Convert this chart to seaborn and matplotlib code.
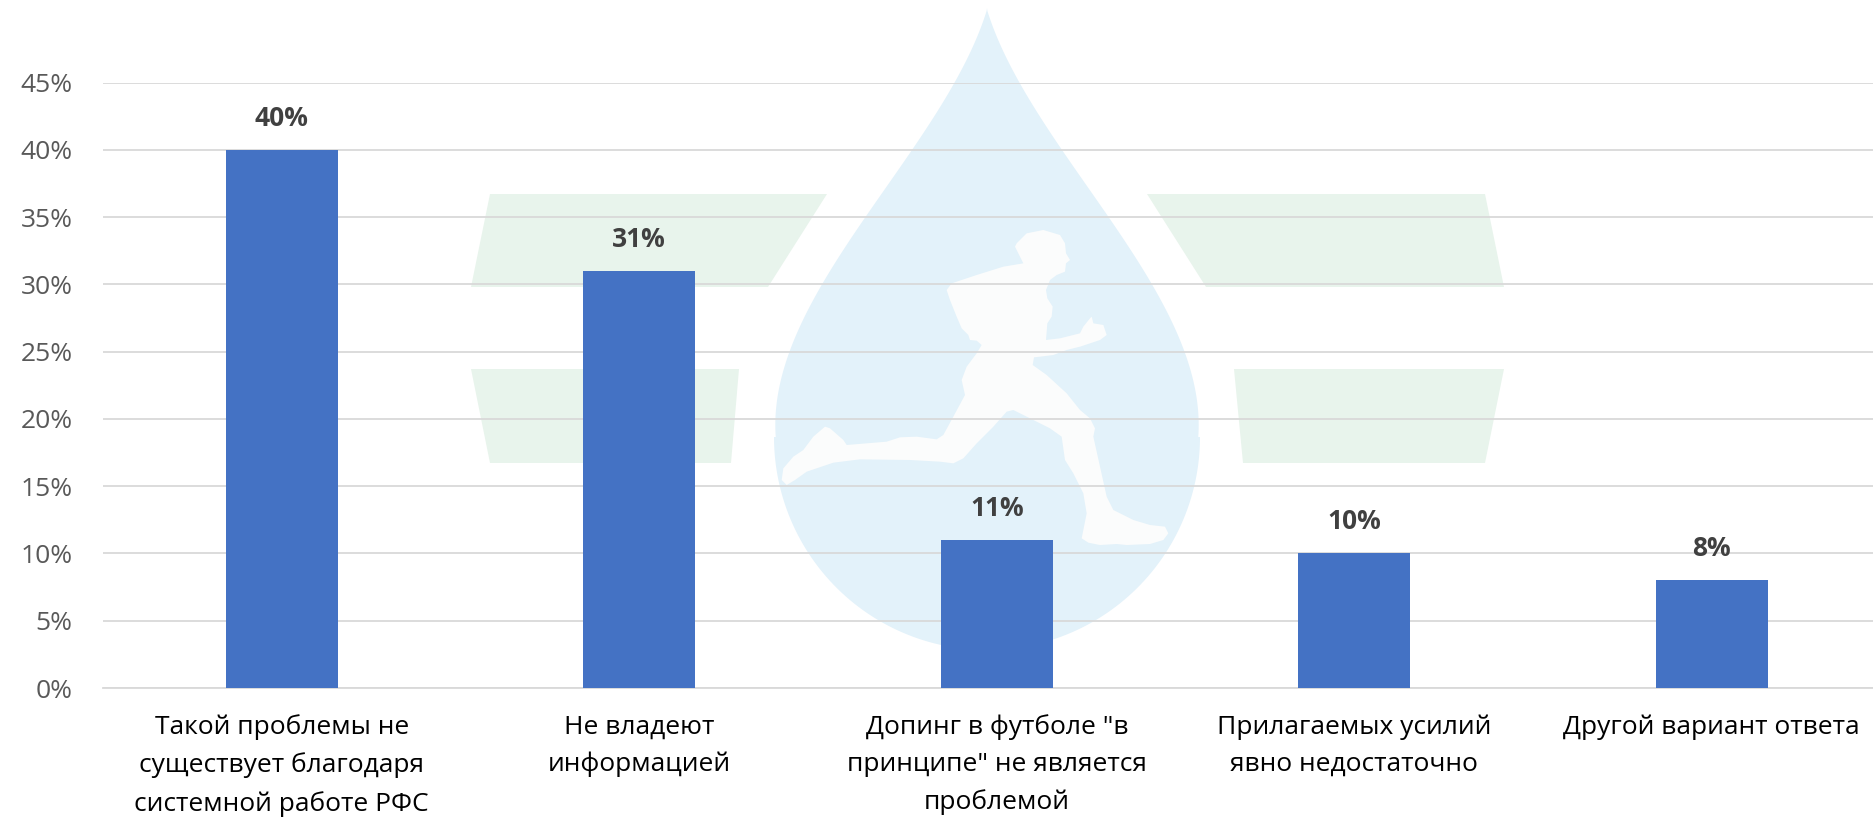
import numpy as np
import pandas as pd
import seaborn as sns
import matplotlib
matplotlib.use("Agg")
import matplotlib.pyplot as plt
from matplotlib.patches import Polygon
from matplotlib.ticker import PercentFormatter, MultipleLocator

# survey answers and their shares
categories = [
    "Такой проблемы не\nсуществует благодаря\nсистемной работе РФС",
    "Не владеют\nинформацией",
    "Допинг в футболе \"в\nпринципе\" не является\nпроблемой",
    "Прилагаемых усилий\nявно недостаточно",
    "Другой вариант ответа",
]
shares = [0.40, 0.31, 0.11, 0.10, 0.08]
value_labels = ["40%", "31%", "11%", "10%", "8%"]

BAR_COLOR = "#4472C4"
GRID_COLOR = "#D9D9D9"
W, H = 1873, 823

sns.set_theme(style="white")
plt.rcParams["font.family"] = ["Open Sans", "DejaVu Sans"]

df = pd.DataFrame({"answer": categories, "share": shares})

fig = plt.figure(figsize=(W / 100, H / 100), dpi=100)

# background watermark (drop, runner, green stripes) drawn in pixel space
bg = fig.add_axes([0, 0, 1, 1], zorder=0)
bg.set_xlim(0, W)
bg.set_ylim(H, 0)
bg.axis("off")
green = "#E8F4EC"
for pts in [
    [(490, 194), (827, 194), (768, 287), (471, 287)],
    [(471, 369), (739, 369), (731, 463), (490, 463)],
    [(1147, 194), (1485, 194), (1504, 287), (1206, 287)],
    [(1234, 369), (1504, 369), (1485, 463), (1243, 463)],
]:
    bg.add_patch(Polygon(pts, closed=True, facecolor=green, edgecolor="none"))

# drop: smooth traced side (mirrored) + round bottom
cx, cy, r = 987, 437, 213
coef = np.polyfit([8, 83, 150, 218, 285, 353, 400, 437],
                  [0, 32, 74, 123, 168, 196, 208, 213], 3)
yy = np.linspace(8, cy, 150)
dx = np.clip(np.polyval(coef, yy), 0, r)
dx[0] = 0
phi = np.linspace(np.pi / 2, 3 * np.pi / 2, 120)
bottom_arc = np.column_stack([cx - r * np.sin(phi), cy - r * np.cos(phi)])
drop = np.vstack([
    np.column_stack([cx - dx, yy]),
    bottom_arc,
    np.column_stack([cx + dx, yy])[::-1],
])
bg.add_patch(Polygon(drop, closed=True, facecolor="#E3F2FA", edgecolor="none"))

# runner silhouette (rough outline)
runner = np.array([
    (770, 70), (800, 40), (850, 30), (900, 45), (915, 70), (918, 100), (930, 120),
    (918, 130), (915, 155), (890, 165), (870, 180), (858, 210), (862, 235),
    (878, 260), (875, 290), (862, 310), (858, 360), (900, 355), (960, 340),
    (970, 320), (990, 295), (995, 290), (1000, 310), (1030, 315), (1040, 345),
    (1020, 360), (990, 370), (960, 380), (920, 390), (880, 405), (840, 410),
    (822, 412), (818, 435), (860, 465), (920, 520), (960, 570), (990, 595),
    (1005, 625), (1000, 650), (1020, 740), (1040, 830), (1060, 870), (1120, 900),
    (1170, 915), (1215, 920), (1225, 940), (1210, 960), (1170, 972), (1100, 975),
    (1070, 972), (1020, 975), (985, 968), (965, 955), (970, 930), (980, 880),
    (970, 820), (940, 760), (915, 720), (905, 650), (870, 625), (800, 590),
    (760, 570), (740, 575), (700, 620), (650, 670), (610, 715), (580, 730),
    (540, 725), (450, 720), (300, 718), (220, 728), (140, 755), (105, 780),
    (80, 795), (65, 780), (70, 745), (100, 710), (130, 690), (160, 650),
    (195, 620), (210, 625), (250, 660), (260, 675), (380, 665), (420, 652),
    (470, 650), (530, 658), (550, 645), (580, 590), (615, 525), (605, 480),
    (620, 440), (650, 400), (665, 375), (650, 362), (630, 360), (625, 345),
    (605, 325), (590, 290), (570, 240), (560, 210), (575, 190), (650, 165),
    (730, 140), (790, 130), (775, 100), (765, 80),
], dtype=float)
runner = runner / 3 + np.array([760, 220])
bg.add_patch(Polygon(runner, closed=True, facecolor="#FBFCFC", edgecolor="none"))

# main chart
left, bottom, top = 103, 688, 82.7
ax = fig.add_axes([left / W, 1 - bottom / H, (W - left) / W, (bottom - top) / H], zorder=1)
ax.set_facecolor("none")

sns.barplot(data=df, x="answer", y="share", color=BAR_COLOR, width=0.313,
            saturation=1, edgecolor="none", linewidth=0, ax=ax, zorder=3)

ax.set_ylim(0, 0.45)
ax.set_xlim(-0.5, -0.5 + (W - left) / 357.5)
ax.yaxis.set_major_locator(MultipleLocator(0.05))
ax.yaxis.set_major_formatter(PercentFormatter(xmax=1, decimals=0))
ax.grid(axis="y", color=GRID_COLOR, linewidth=1.3, zorder=1)
ax.set_axisbelow(True)
for s in ["left", "top", "right"]:
    ax.spines[s].set_visible(False)
ax.spines["bottom"].set_color(GRID_COLOR)
ax.spines["bottom"].set_linewidth(1.3)
ax.set(xlabel="", ylabel="")

ax.tick_params(axis="y", length=0, pad=22, labelsize=19, labelcolor="#595959")
ax.tick_params(axis="x", length=0, pad=19, labelsize=19, labelcolor="#000000")
for lbl in ax.get_xticklabels():
    lbl.set_linespacing(1.62)

ax.bar_label(ax.containers[0], labels=value_labels, padding=13,
             fontsize=19, fontweight="bold", color="#404040")

fig.savefig("out.png", dpi=100)
